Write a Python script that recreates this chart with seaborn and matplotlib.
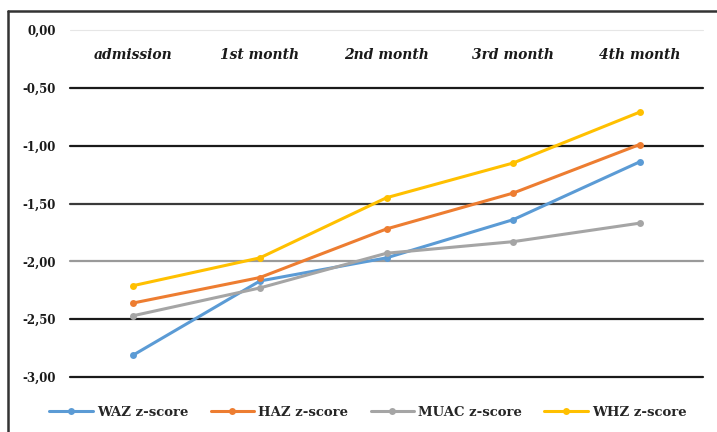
import matplotlib
matplotlib.use("Agg")
import matplotlib.pyplot as plt
from matplotlib.lines import Line2D
import seaborn as sns
import pandas as pd

# Time points and z-score means for each anthropometric index
periods = ["admission", "1st month", "2nd month", "3rd month", "4th month"]
waz = [-2.81, -2.17, -1.97, -1.64, -1.14]
haz = [-2.36, -2.14, -1.72, -1.41, -0.99]
muac = [-2.47, -2.23, -1.93, -1.83, -1.67]
whz = [-2.21, -1.97, -1.45, -1.15, -0.71]

series_names = ["WAZ z-score", "HAZ z-score", "MUAC z-score", "WHZ z-score"]
series_colors = ["#5B9BD5", "#ED7D31", "#A5A5A5", "#FFC000"]

y_ticks = [0.0, -0.5, -1.0, -1.5, -2.0, -2.5, -3.0]
y_tick_labels = ["0,00", "-0,50", "-1,00", "-1,50", "-2,00", "-2,50", "-3,00"]

frames = []
for name, vals in zip(series_names, [waz, haz, muac, whz]):
    frames.append(pd.DataFrame({"period": periods, "pos": range(len(periods)),
                                "z": vals, "series": name}))
df = pd.concat(frames, ignore_index=True)

sns.set_theme(style="white")
plt.rcParams["font.family"] = ["DejaVu Serif", "Liberation Serif"]

fig = plt.figure(figsize=(7.17, 4.32), dpi=100)
ax = fig.add_axes([70 / 717, (432 - 377) / 432, (703 - 70) / 717, (377 - 30) / 432])

# horizontal reference lines
grid_colors = {-0.5: "#1a1a1a", -1.0: "#1a1a1a", -1.5: "#3a3a3a",
               -2.0: "#9a9a9a", -2.5: "#1a1a1a", -3.0: "#1a1a1a"}
for yv, c in grid_colors.items():
    ax.axhline(yv, color=c, lw=1.6, zorder=1, clip_on=False)
ax.axhline(0.0, color="#e6e6e6", lw=0.8, zorder=1, clip_on=False)

sns.lineplot(data=df, x="pos", y="z", hue="series", palette=series_colors,
             hue_order=series_names, marker="o", markersize=5, markeredgewidth=0,
             linewidth=2.2, ax=ax, legend=False, zorder=3)

ax.set_xlim(-0.5, len(periods) - 0.5)
ax.set_ylim(-3.0, 0.0)
ax.set_xticks([])
ax.set_yticks(y_ticks)
ax.set_yticklabels(y_tick_labels, fontsize=8.5, fontweight="bold", color="#1a1a1a")
ax.tick_params(axis="y", length=0, pad=10)
ax.set_xlabel("")
ax.set_ylabel("")
for s in ax.spines.values():
    s.set_visible(False)

# period names across the top band
for i, p in enumerate(periods):
    ax.text(i, -0.215, p, ha="center", va="center", fontsize=10,
            fontweight="bold", fontstyle="italic", color="#1a1a1a")

handles = [Line2D([0], [0], color=c, lw=2.2, marker="o", markersize=5,
                  markeredgewidth=0) for c in series_colors]
fig.legend(handles, series_names, loc="center", bbox_to_anchor=(368 / 717, 1 - 412 / 432),
           ncol=4, frameon=False, prop={"weight": "bold", "size": 9.5},
           handlelength=3.3, columnspacing=1.7, handletextpad=0.3)

# outer frame along the left and top edges
fig.add_artist(Line2D([8 / 717, 8 / 717], [0, 1 - 11 / 432], color="#333333", lw=1.8,
                      transform=fig.transFigure))
fig.add_artist(Line2D([8 / 717, 1], [1 - 11 / 432, 1 - 11 / 432], color="#333333", lw=1.8,
                      transform=fig.transFigure))

fig.savefig("out.png", dpi=100)
